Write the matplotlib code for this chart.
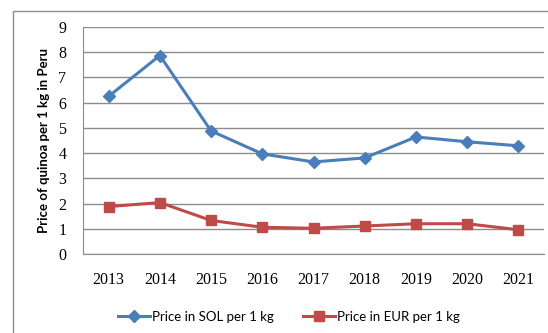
import numpy as np
import matplotlib
matplotlib.use("Agg")
import matplotlib.pyplot as plt
from matplotlib.patches import Rectangle

years = ["2013", "2014", "2015", "2016", "2017", "2018", "2019", "2020", "2021"]
price_sol = [6.25, 7.87, 4.88, 3.97, 3.65, 3.81, 4.64, 4.45, 4.29]
price_eur = [1.88, 2.04, 1.33, 1.06, 1.02, 1.11, 1.20, 1.20, 0.96]

W, H = 548, 333
fig = plt.figure(figsize=(W / 100, H / 100), dpi=100)

# outer chart frame
fig.patches.append(Rectangle((13 / W, -0.1), 1.0, (H - 11) / H + 0.1,
                             transform=fig.transFigure, fill=False,
                             edgecolor="#8c8c8c", linewidth=1.0))

ax = fig.add_axes([83 / W, 1 - 254 / H, (544 - 83) / W, (254 - 27) / H])
x = np.arange(len(years))

ax.plot(x, price_sol, color="#4a7ebb", linewidth=2.2, marker="D",
        markersize=6.5, label="Price in SOL per 1 kg")
ax.plot(x, price_eur, color="#be4b48", linewidth=2.2, marker="s",
        markersize=7.5, label="Price in EUR per 1 kg")

ax.set_xlim(-0.5, len(years) - 0.5)
ax.set_ylim(0, 9)
ax.set_yticks(range(10))
ax.yaxis.grid(True, color="#8c8c8c", linewidth=1.0)
ax.set_axisbelow(True)
for s in ["top", "right"]:
    ax.spines[s].set_visible(False)
for s in ["left", "bottom"]:
    ax.spines[s].set_color("#8c8c8c")
ax.tick_params(length=0)
ax.tick_params(axis="y", pad=12)
ax.tick_params(axis="x", pad=13)

ax.set_xticks(x)
ax.set_xticklabels(years, fontfamily="Liberation Serif", fontsize=11.5)
for lbl in ax.get_yticklabels():
    lbl.set_fontfamily("Liberation Serif")
    lbl.set_fontsize(11.5)

ax.set_ylabel("Price of quinoa per 1 kg in Peru", fontfamily="Lato",
              fontweight="bold", fontsize=9.5, labelpad=6)

fig.legend(loc="center", bbox_to_anchor=(289 / W, 1 - 317 / H), ncol=2,
           frameon=False, prop={"family": "Lato", "size": 9.5},
           handlelength=2.4, columnspacing=2.2, handletextpad=0.15)

fig.savefig("out.png", dpi=100)
